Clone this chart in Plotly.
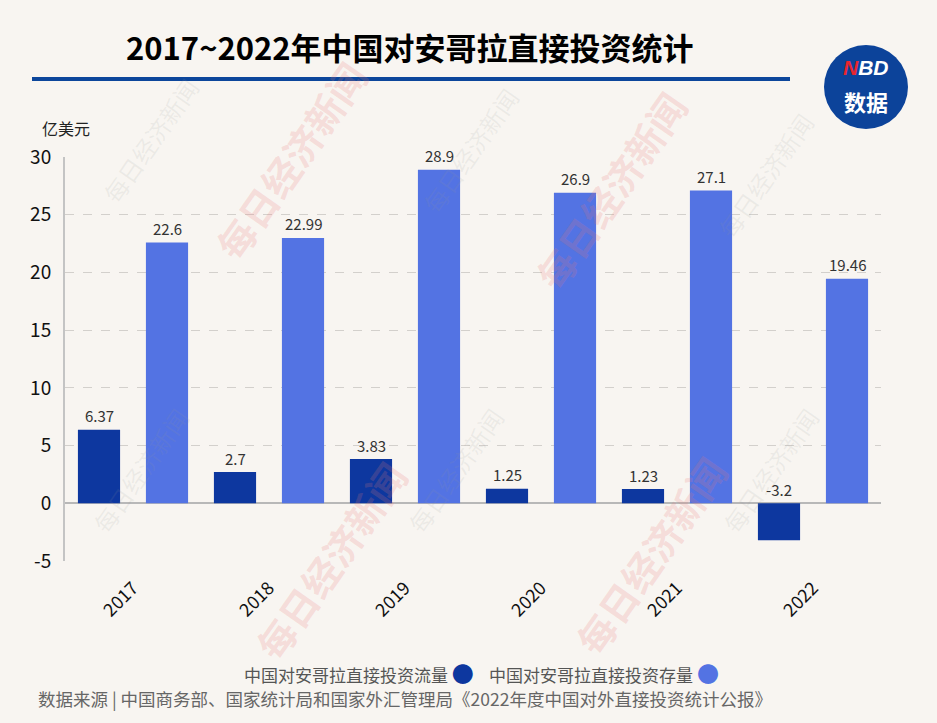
import plotly.graph_objects as go

years = ["2017", "2018", "2019", "2020", "2021", "2022"]
flow = [6.37, 2.7, 3.83, 1.25, 1.23, -3.2]
stock = [22.6, 22.99, 28.9, 26.9, 27.1, 19.46]
flow_name = "中国对安哥拉直接投资流量"
stock_name = "中国对安哥拉直接投资存量"
title = "2017~2022年中国对安哥拉直接投资统计"
unit = "亿美元"
source = "数据来源 | 中国商务部、国家统计局和国家外汇管理局《2022年度中国对外直接投资统计公报》"
y_ticks = [-5, 0, 5, 10, 15, 20, 25, 30]
y_ticktext = ["-5", "0", "5", "10", "15", "20", "25", "30"]

dark = "#0d379f"
light = "#5373e3"
bg = "#f8f5f1"
font = "Noto Sans CJK SC"

fig = go.Figure()
fig.add_trace(go.Bar(x=years, y=flow, name=flow_name, marker=dict(color=dark, line=dict(width=0)),
                     showlegend=False))
fig.add_trace(go.Bar(x=years, y=stock, name=stock_name, marker=dict(color=light, line=dict(width=0)),
                     showlegend=False))

fig.update_layout(
    width=937, height=723,
    paper_bgcolor=bg, plot_bgcolor=bg,
    margin=dict(l=65, r=56, t=157, b=162),
    barmode="group", bargap=0.0, bargroupgap=0.38,
    font=dict(family=font, color="#222222"),
    xaxis=dict(type="category", tickangle=-45, tickfont=dict(size=18, color="#111111", family=font),
               showgrid=False, showline=False, ticks="", zeroline=False, ticklabelstandoff=12),
    yaxis=dict(range=[-5, 30], tickvals=y_ticks, ticktext=y_ticktext,
               tickfont=dict(size=19, color="#111111", family=font),
               showgrid=True, gridcolor="#d3d0cc", griddash="dash", gridwidth=1,
               zeroline=True, zerolinecolor="#b8b8b8", zerolinewidth=2,
               showline=True, linecolor="#c4c4c4", linewidth=2, ticks="", ticklabelstandoff=8),
)

pw, ph = 937 - 65 - 56, 723 - 157 - 162
def px(x):
    return (x - 65) / pw
def py(y):
    return (723 - 162 - y) / ph

annotations = []
# watermarks
wm_gray = [(150, 140), (470, 150), (765, 175), (140, 470), (455, 470), (770, 470)]
for (x, y) in wm_gray:
    annotations.append(dict(x=px(x), y=py(y), xref="paper", yref="paper", xanchor="center", yanchor="middle",
                            text="每日经济新闻", textangle=-55, showarrow=False,
                            font=dict(size=24, color="rgba(150,150,150,0.12)", family=font)))
wm_pink = [(290, 160), (610, 190), (330, 560), (650, 555)]
for (x, y) in wm_pink:
    annotations.append(dict(x=px(x), y=py(y), xref="paper", yref="paper", xanchor="center", yanchor="middle",
                            text="<b>每日经济新闻</b>", textangle=-55, showarrow=False,
                            font=dict(size=38, color="rgba(235,120,120,0.2)", family=font)))

# value labels (negative value sits above the zero line)
for i, v in enumerate(flow):
    annotations.append(dict(x=i, y=max(v, 0), xref="x", yref="y", text=str(v), showarrow=False,
                            xshift=-34, yshift=14, yanchor="middle",
                            font=dict(size=15, color="#333333", family=font)))
for i, v in enumerate(stock):
    annotations.append(dict(x=i, y=max(v, 0), xref="x", yref="y", text=str(v), showarrow=False,
                            xshift=34, yshift=14, yanchor="middle",
                            font=dict(size=15, color="#333333", family=font)))

annotations += [
    dict(x=px(410), y=py(47), xref="paper", yref="paper", text=f"<b>{title}</b>", showarrow=False,
         font=dict(size=31, color="#000000", family=font), xanchor="center", yanchor="middle"),
    dict(x=px(40), y=py(128), xref="paper", yref="paper", text=unit, showarrow=False,
         font=dict(size=16, color="#222222", family=font), xanchor="left", yanchor="middle"),
    dict(x=px(482), y=py(672), xref="paper", yref="paper",
         text=f"{flow_name} <span style='color:{dark};font-size:22px'>●</span>    {stock_name} <span style='color:{light};font-size:22px'>●</span>",
         showarrow=False, font=dict(size=17, color="#555555", family=font), xanchor="center", yanchor="middle"),
    dict(x=px(36), y=py(698), xref="paper", yref="paper", text=source, showarrow=False,
         font=dict(size=17.5, color="#666666", family=font), xanchor="left", yanchor="middle"),
    dict(x=px(866), y=py(67), xref="paper", yref="paper",
         text="<b><i><span style='color:#e8262f'>N</span>BD</i></b>", showarrow=False,
         font=dict(size=21, color="#ffffff", family="Liberation Sans"), xanchor="center", yanchor="middle"),
    dict(x=px(866), y=py(101), xref="paper", yref="paper", text="<b>数据</b>", showarrow=False,
         font=dict(size=22, color="#ffffff", family=font), xanchor="center", yanchor="middle"),
]

fig.update_layout(annotations=annotations)

fig.update_layout(shapes=[
    dict(type="line", xref="paper", yref="paper", x0=px(32), x1=px(790), y0=py(79), y1=py(79),
         line=dict(color="#0c469b", width=4)),
    dict(type="circle", xref="paper", yref="paper", x0=px(824), x1=px(908), y0=py(45), y1=py(129),
         fillcolor="#0c439a", line=dict(width=0)),
])

fig.write_html("out.html")
